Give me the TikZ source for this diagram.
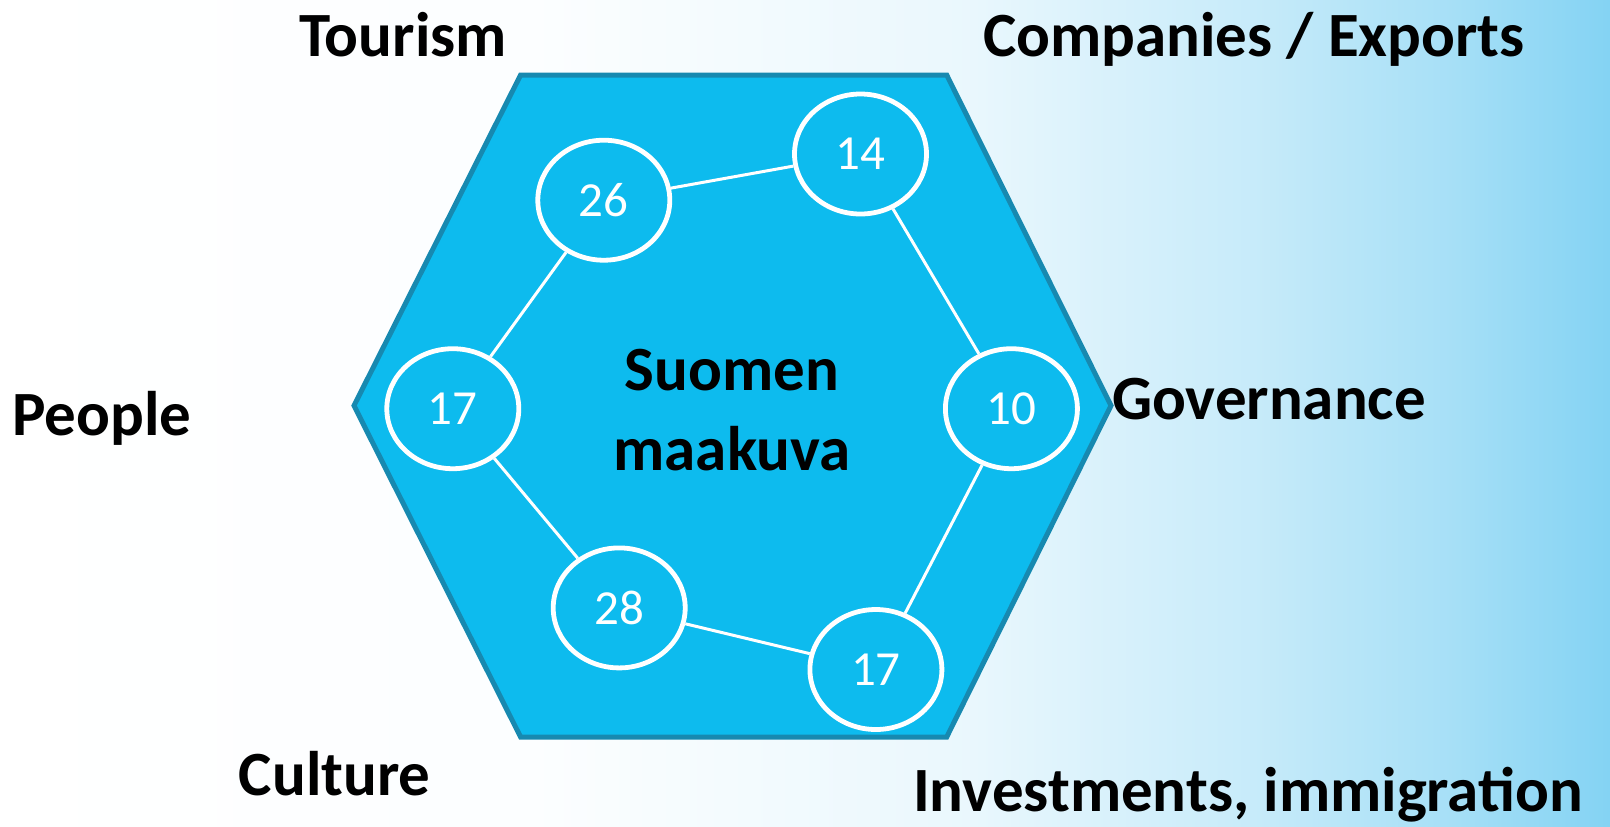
\documentclass[tikz,border=0pt]{standalone}
\usepackage{fontspec}
\setmainfont{Carlito}
\usetikzlibrary{shapes.geometric}

\definecolor{hexfill}{HTML}{0DBBEE}
\definecolor{hexline}{HTML}{1789B0}
\definecolor{bgblue}{HTML}{4FC0EE}
\pgfdeclarehorizontalshading{bgshade}{100bp}{color(0bp)=(white); color(25bp)=(white); color(42bp)=(white!98!bgblue); color(55bp)=(white!88!bgblue); color(64bp)=(white!68!bgblue); color(70bp)=(white!50!bgblue); color(75bp)=(white!30!bgblue); color(100bp)=(white!30!bgblue)}

\tikzset{
  lbl/.style={font=\fontsize{31.5}{38}\selectfont\bfseries, inner sep=0pt, anchor=base},
  num/.style={draw=white, line width=2.4pt, fill=hexfill, ellipse, minimum width=66pt, minimum height=60pt, inner sep=0pt, text=white, font=\fontsize{24.5}{28}\selectfont},
  link/.style={draw=white, line width=1.5pt}
}

\begin{document}
\begin{tikzpicture}[x=0.5pt, y=-0.5pt]
  \useasboundingbox (0,0) rectangle (1610,826);
  % background
  \shade[shading=bgshade] (0,0) rectangle (1610,826);
  % hexagon
  \draw[hexline, line width=2.5pt, fill=hexfill, line join=miter]
    (520.6,75) -- (946.7,75) -- (1111,405.6) -- (946.7,737) -- (520.6,737) -- (354,405.6) -- cycle;
  %labels
  \node[lbl] at (403,56.5) (tourism) {Tourism};
  \node[lbl] at (1254,56.5) (companies) {Companies / Exports};
  \node[lbl] at (101.7,435.4) (people) {People};
  \node[lbl] at (1269,419) (governance) {Governance};
  \node[lbl] at (334.7,795.8) (culture) {Culture};
  \node[lbl] at (1248,811) (investments) {Investments, immigration};
  \node[lbl, align=center, font=\fontsize{31.5}{40}\selectfont\bfseries] at (732,470.3) (maakuva) {Suomen\\maakuva};
  %circles
  \node[num] at (603.8,200.2) (tour) {26};
  \node[num] at (860.5,154) (comp) {14};
  \node[num] at (1011.4,408.7) (gov) {10};
  \node[num] at (875.9,669.5) (inv) {17};
  \node[num] at (619.2,607.9) (cult) {28};
  \node[num] at (452.8,408.7) (peop) {17};
  \path[link]
    (tour) edge (comp)
    (comp) edge (gov)
    (gov) edge (inv)
    (inv) edge (cult)
    (cult) edge (peop)
    (peop) edge (tour);
\end{tikzpicture}
\end{document}
